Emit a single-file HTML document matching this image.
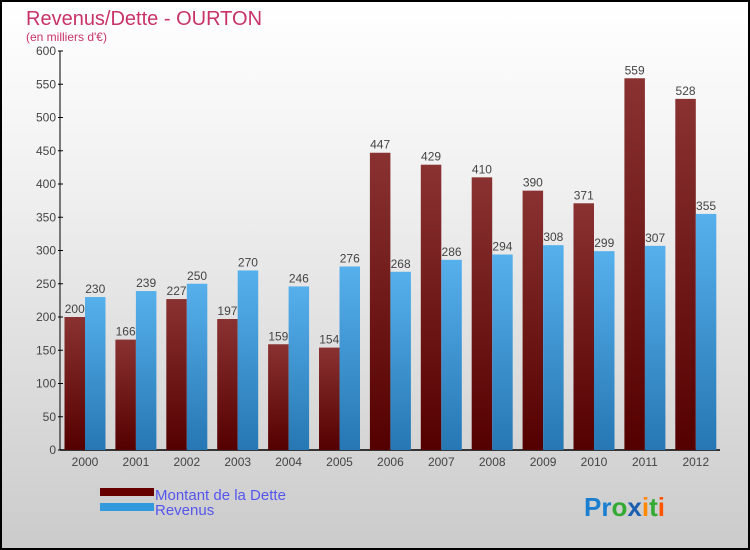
<!DOCTYPE html>
<html><head><meta charset="utf-8"><style>
html,body{margin:0;padding:0}
body{width:750px;height:550px;overflow:hidden;font-family:"Liberation Sans",sans-serif}
#wrap{position:relative;width:746px;height:546px;border:2px solid #000;background:linear-gradient(#fff,#f2f2f2 30%,#cbcbcb)}
</style></head><body>
<div id="wrap">
<svg id="chart" width="746" height="546" style="position:absolute;left:0;top:0">
<defs>
<linearGradient id="gd" x1="0" y1="0" x2="0" y2="1"><stop offset="0" stop-color="#8a3232"/><stop offset="1" stop-color="#550000"/></linearGradient>
<linearGradient id="gr" x1="0" y1="0" x2="0" y2="1"><stop offset="0" stop-color="#56b0ec"/><stop offset="1" stop-color="#2677b3"/></linearGradient>
</defs>
<text x="24" y="23" font-size="20" fill="#c8336a">Revenus/Dette - OURTON</text>
<text x="24" y="39" font-size="12" fill="#c8336a">(en milliers d'€)</text>
<g id="plot"></g>
<rect x="98" y="486" width="54" height="8" fill="#660000"/>
<text x="153" y="498" font-size="15" fill="#5555ee">Montant de la Dette</text>
<rect x="98" y="501" width="54" height="8" fill="#3399dd"/>
<text x="153" y="513" font-size="15" fill="#5555ee">Revenus</text>
<text x="582" y="514" font-size="26" font-weight="bold"><tspan fill="#1a7fd0">Pr</tspan><tspan fill="#33aa33">o</tspan><tspan fill="#1a5fb0">x</tspan><tspan fill="#ff8800">i</tspan><tspan fill="#33aa33">t</tspan><tspan fill="#ff5500">i</tspan></text>
</svg>
</div>
<script>
const years=["2000","2001","2002","2003","2004","2005","2006","2007","2008","2009","2010","2011","2012"];
const dette=[200,166,227,197,159,154,447,429,410,390,371,559,528];
const revenus=[230,239,250,270,246,276,268,286,294,308,299,307,355];
const yTicks=[0,50,100,150,200,250,300,350,400,450,500,550,600];
const NS="http://www.w3.org/2000/svg";
const g=document.getElementById('plot');
const y0=448,yTop=49,yMax=600;
const yS=v=>y0-(v/yMax)*(y0-yTop);
const xC=i=>83+i*50.9;
const bw=20.5;
function mk(t,a){const e=document.createElementNS(NS,t);for(const k in a)e.setAttribute(k,a[k]);g.appendChild(e);return e;}
let ax=mk('line',{x1:58,y1:yTop,x2:58,y2:y0,stroke:'#000','stroke-width':1});


let bx=mk('line',{x1:58,y1:y0,x2:718,y2:y0,stroke:'#000','stroke-width':1.5});


yTicks.forEach(v=>{
 let t=mk('line',{x1:56,y1:yS(v),x2:61,y2:yS(v),stroke:'#000'});
 
 
 let l=mk('text',{x:54,y:yS(v)+4,'font-size':12,fill:'#444','text-anchor':'end'});
 l.textContent=v;
 
 
});
years.forEach((yr,i)=>{
 const c=xC(i);
 let b1=mk('rect',{x:c-bw,y:yS(dette[i]),width:bw,height:y0-yS(dette[i]),fill:'url(#gd)'});
 
 
 let b2=mk('rect',{x:c,y:yS(revenus[i]),width:bw,height:y0-yS(revenus[i]),fill:'url(#gr)'});
 
 
 let l1=mk('text',{x:c-bw/2,y:yS(dette[i])-4,'font-size':12,fill:'#444','text-anchor':'middle'});
 l1.textContent=dette[i];
 
 
 let l2=mk('text',{x:c+bw/2,y:yS(revenus[i])-4,'font-size':12,fill:'#444','text-anchor':'middle'});
 l2.textContent=revenus[i];
 
 
 let xl=mk('text',{x:c,y:y0+16,'font-size':12,fill:'#444','text-anchor':'middle'});
 xl.textContent=yr;
 
 
});
</script>
</body></html>
